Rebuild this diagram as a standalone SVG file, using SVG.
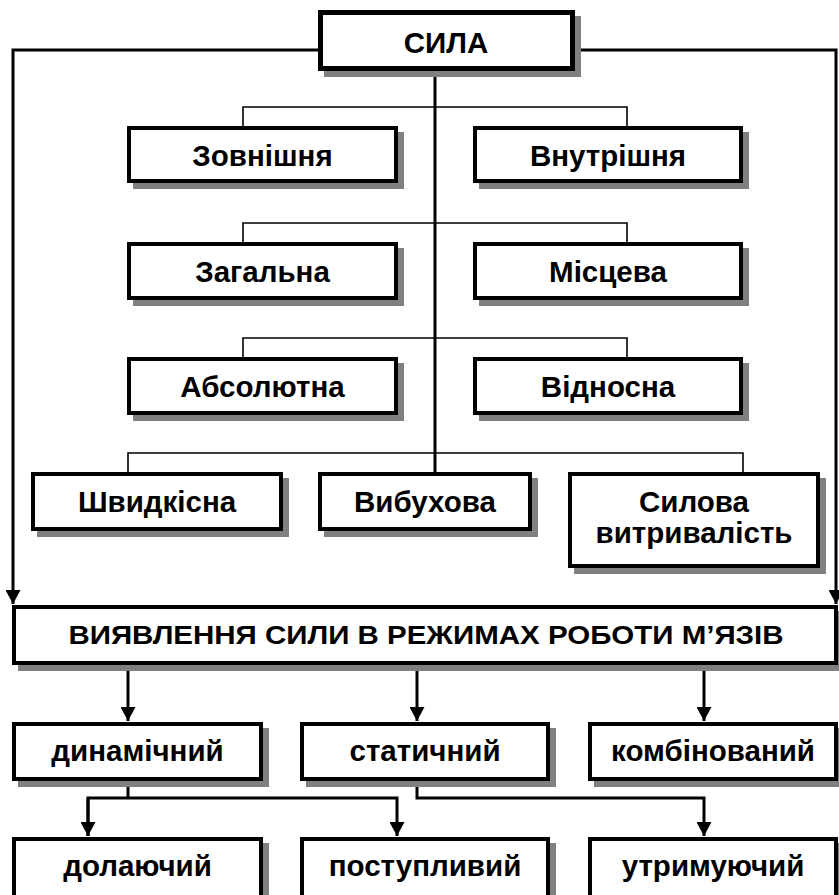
<svg xmlns="http://www.w3.org/2000/svg" width="839" height="895" viewBox="0 0 839 895">
<style>
.box{fill:#fff;stroke:#000;stroke-width:4}
.sh{fill:#808080}
.t{font-family:"Liberation Sans",Arial,sans-serif;font-weight:bold;font-size:29.5px;text-anchor:middle;fill:#000}
.thick{fill:none;stroke:#000;stroke-width:3}
.thin{fill:none;stroke:#000;stroke-width:1.6}
</style>
<defs>
<marker id="arr" markerUnits="userSpaceOnUse" markerWidth="14" markerHeight="15" refX="14" refY="7.5" orient="auto">
<path d="M0,0 L14,7.5 L0,15 z" fill="#000"/>
</marker>
</defs>
<rect width="839" height="895" fill="#fff"/>
<g id="connectors">
<path class="thick" d="M318,50 H13 V604" marker-end="url(#arr)"/>
<path class="thick" d="M575,50 H836 V604" marker-end="url(#arr)"/>
<path class="thick" d="M435,71 V472"/>
<path class="thin" d="M243,126 V107 H627 V126"/>
<path class="thin" d="M243,242 V223 H627 V242"/>
<path class="thin" d="M243,357 V338 H627 V357"/>
<path class="thin" d="M128,472 V453 H743 V472"/>
<path class="thick" d="M128,665 V721" marker-end="url(#arr)"/>
<path class="thick" d="M417,665 V721" marker-end="url(#arr)"/>
<path class="thick" d="M704,665 V721" marker-end="url(#arr)"/>
<path class="thick" d="M128,781 V798"/>
<path class="thick" d="M88,836 V798 H397 V836" marker-end="url(#arr)"/>
<path class="thick" d="M88,798 V836" marker-end="url(#arr)"/>
<path class="thick" d="M417,781 V798 H704 V836" marker-end="url(#arr)"/>
</g>
<g id="n-sila">
<rect class="sh" x="324" y="16" width="257" height="61"/>
<rect class="box" x="320.5" y="12.5" width="252" height="56" style="stroke-width:5"/>
<text class="t" x="446" y="53">СИЛА</text>
</g>
<g id="n-zovn">
<rect class="sh" x="133" y="132" width="271" height="57"/>
<rect class="box" x="129" y="128" width="267" height="53"/>
<text class="t" x="262.5" y="166">Зовнішня</text>
</g>
<g id="n-vnutr">
<rect class="sh" x="479" y="132" width="270" height="57"/>
<rect class="box" x="475" y="128" width="266" height="53"/>
<text class="t" x="608" y="166">Внутрішня</text>
</g>
<g id="n-zag">
<rect class="sh" x="133" y="248" width="271" height="58"/>
<rect class="box" x="129" y="244" width="267" height="54"/>
<text class="t" x="262.5" y="282">Загальна</text>
</g>
<g id="n-misc">
<rect class="sh" x="479" y="248" width="270" height="58"/>
<rect class="box" x="475" y="244" width="266" height="54"/>
<text class="t" x="608" y="282">Місцева</text>
</g>
<g id="n-abs">
<rect class="sh" x="133" y="363" width="271" height="58"/>
<rect class="box" x="129" y="359" width="267" height="54"/>
<text class="t" x="262.5" y="397">Абсолютна</text>
</g>
<g id="n-vidn">
<rect class="sh" x="479" y="363" width="270" height="58"/>
<rect class="box" x="475" y="359" width="266" height="54"/>
<text class="t" x="608" y="397">Відносна</text>
</g>
<g id="n-shvyd">
<rect class="sh" x="37" y="478" width="252" height="59"/>
<rect class="box" x="33" y="474" width="248" height="55"/>
<text class="t" x="157" y="512">Швидкісна</text>
</g>
<g id="n-vybuh">
<rect class="sh" x="324" y="478" width="214" height="59"/>
<rect class="box" x="320" y="474" width="210" height="55"/>
<text class="t" x="425" y="512">Вибухова</text>
</g>
<g id="n-sylova">
<rect class="sh" x="574" y="478" width="252" height="96"/>
<rect class="box" x="570" y="474" width="248" height="92"/>
<text class="t" x="694" y="512">Силова</text>
<text class="t" x="694" y="543">витривалість</text>
</g>
<g id="n-vyyav">
<rect class="sh" x="18" y="611" width="826" height="60"/>
<rect class="box" x="14" y="607" width="822" height="56"/>
<text class="t" transform="translate(426,644) scale(1.18,1)" x="0" y="0" style="font-size:25px">ВИЯВЛЕННЯ СИЛИ В РЕЖИМАХ РОБОТИ М’ЯЗІВ</text>
</g>
<g id="n-dyn">
<rect class="sh" x="18" y="728" width="251" height="59"/>
<rect class="box" x="14" y="724" width="247" height="55"/>
<text class="t" x="137.5" y="761">динамічний</text>
</g>
<g id="n-stat">
<rect class="sh" x="306" y="728" width="250" height="59"/>
<rect class="box" x="302" y="724" width="246" height="55"/>
<text class="t" x="425" y="761">статичний</text>
</g>
<g id="n-komb">
<rect class="sh" x="594" y="728" width="250" height="59"/>
<rect class="box" x="590" y="724" width="246" height="55"/>
<text class="t" x="713" y="761">комбінований</text>
</g>
<g id="n-dol">
<rect class="sh" x="18" y="843" width="251" height="64"/>
<rect class="box" x="14" y="839" width="247" height="60"/>
<text class="t" x="137.5" y="876">долаючий</text>
</g>
<g id="n-post">
<rect class="sh" x="306" y="843" width="250" height="64"/>
<rect class="box" x="302" y="839" width="246" height="60"/>
<text class="t" x="425" y="876">поступливий</text>
</g>
<g id="n-utr">
<rect class="sh" x="594" y="843" width="250" height="64"/>
<rect class="box" x="590" y="839" width="246" height="60"/>
<text class="t" x="713" y="876">утримуючий</text>
</g>
</svg>
